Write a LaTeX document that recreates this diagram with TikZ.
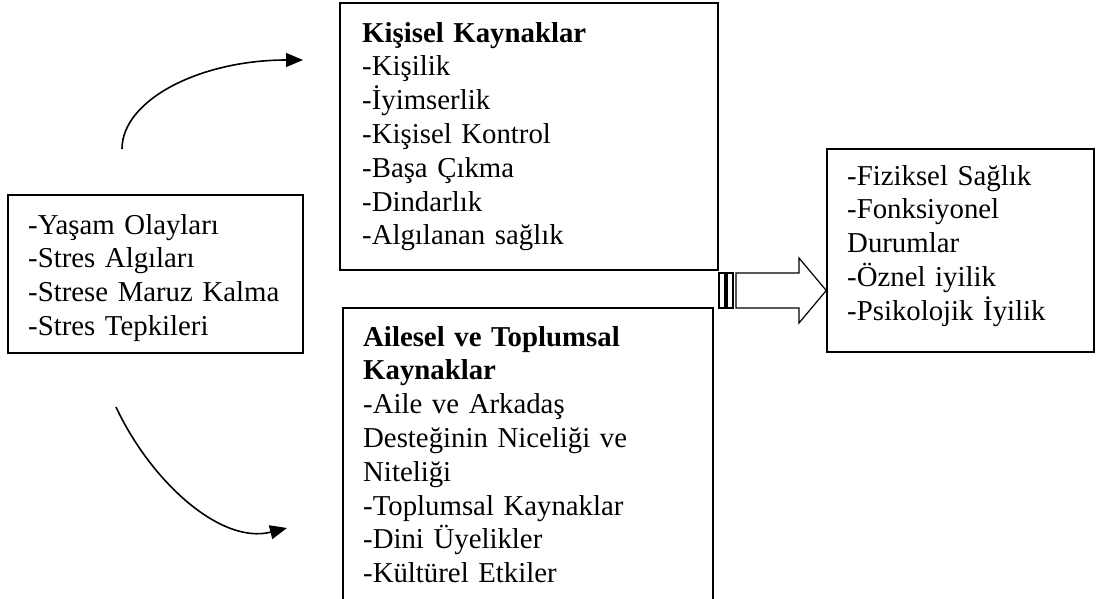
\documentclass[tikz,border=0pt]{standalone}
\usepackage{fontspec}
\setmainfont{Liberation Serif}
\usetikzlibrary{arrows.meta,positioning}

\begin{document}
\begin{tikzpicture}[x=1pt,y=-1pt,
  kutu/.style={draw, line width=1.5pt, inner sep=0pt},
  yazi/.style={inner sep=0pt, anchor=base west, align=left, text width=#1,
    font=\fontsize{28.8}{33.8}\selectfont},
  egri/.style={line width=1.6pt, -{Triangle[length=17pt,width=14pt]}},
  serit/.style={line width=1.2pt, fill=white}]
\useasboundingbox (0,0) rectangle (1096,598);
\clip (0,0) rectangle (1096,598);

\node[kutu, minimum width=295pt, minimum height=158pt] (stres) at (155.5,274) {};
\node[yazi=270pt] (stresyazi) at (28,234) {-Yaşam Olayları\\-Stres Algıları\\-Strese Maruz Kalma\\-Stres Tepkileri};

\node[kutu, minimum width=378pt, minimum height=267pt] (kisisel) at (529,136.5) {};
\node[yazi=340pt] (kisiselyazi) at (362,42) {\textbf{Kişisel Kaynaklar}\\-Kişilik\\-İyimserlik\\-Kişisel Kontrol\\-Başa Çıkma\\-Dindarlık\\-Algılanan sağlık};

\node[kutu, minimum width=370pt, minimum height=332pt] (ailesel) at (528,474) {};
\node[yazi=340pt] (aileselyazi) at (363,346) {\textbf{Ailesel ve Toplumsal}\\\textbf{Kaynaklar}\\-Aile ve Arkadaş\\Desteğinin Niceliği ve\\Niteliği\\-Toplumsal Kaynaklar\\-Dini Üyelikler\\-Kültürel Etkiler};

\node[kutu, minimum width=267pt, minimum height=203pt] (sonuc) at (960.5,250.5) {};
\node[yazi=240pt] (sonucyazi) at (847,185) {-Fiziksel Sağlık\\-Fonksiyonel\\Durumlar\\-Öznel iyilik\\-Psikolojik İyilik};

\draw[serit] (719,273) rectangle (725,308);
\draw[serit] (727,273) rectangle (733,308);
\draw[serit] (736,273) -- (799,273) -- (799,258) -- (sonuc.west |- 0,290.5) -- (799,323) -- (799,308) -- (736,308) -- cycle;

\coordinate (ust1) at (122,149);
\coordinate (ust2) at (303,60);
\draw[egri] (ust1) .. controls (122,100) and (200,60) .. (ust2);
\coordinate (alt1) at (116,407);
\coordinate (alt2) at (287,528);
\draw[egri] (alt1) .. controls (150,480) and (220,545) .. (alt2);
\end{tikzpicture}
\end{document}
